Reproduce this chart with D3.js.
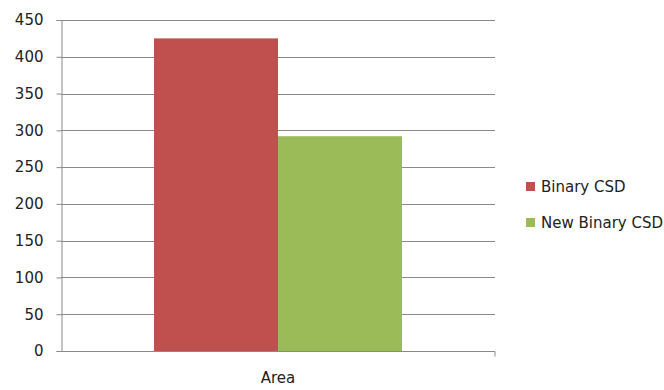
<!DOCTYPE html>
<html>
<head>
<meta charset="utf-8">
<script src="https://cdn.jsdelivr.net/npm/d3@7"></script>
<style>
  body { margin: 0; background: #fff; }
  text { font-family: "DejaVu Sans", sans-serif; fill: #222; }
</style>
</head>
<body>
<div id="chart"></div>
<script>
var categories = ["Area"];
var seriesNames = ["Binary CSD", "New Binary CSD"];
var seriesValues = [[425], [292]];
var yTicks = [0, 50, 100, 150, 200, 250, 300, 350, 400, 450];
var colors = ["#C0504D", "#9BBB59"];

var width = 664;
var height = 390;
var margin = {top: 20, left: 61, right: 169, bottom: 39};
var font = "'DejaVu Sans', sans-serif";

var svg = d3.select("#chart")
  .append("svg")
  .attr("width", width)
  .attr("height", height);

var y = d3.scaleLinear()
  .domain([0, 450])
  .range([height - margin.bottom, margin.top]);

var x0 = d3.scaleBand()
  .domain(categories)
  .range([margin.left, width - margin.right])
  .paddingInner(0)
  .paddingOuter(0.375);

var x1 = d3.scaleBand()
  .domain(seriesNames)
  .range([0, x0.bandwidth()]);

// gridlines
svg.append("g")
  .selectAll("line")
  .data(yTicks.filter(function(d) { return d > 0; }))
  .join("line")
    .attr("x1", margin.left)
    .attr("x2", width - margin.right)
    .attr("y1", function(d) { return Math.round(y(d)) + 0.5; })
    .attr("y2", function(d) { return Math.round(y(d)) + 0.5; })
    .attr("stroke", "#8a8a8a")
    .attr("stroke-width", 1);

// bars
var groups = svg.append("g")
  .selectAll("g")
  .data(categories)
  .join("g")
    .attr("transform", function(d) { return "translate(" + x0(d) + ",0)"; });

groups.selectAll("rect")
  .data(function(d, i) {
    return seriesNames.map(function(s, j) { return {name: s, value: seriesValues[j][i], idx: j}; });
  })
  .join("rect")
    .attr("x", function(d) { return x1(d.name); })
    .attr("y", function(d) { return y(d.value); })
    .attr("width", x1.bandwidth())
    .attr("height", function(d) { return y(0) - y(d.value); })
    .attr("fill", function(d) { return colors[d.idx]; });

// y axis
var yAxis = svg.append("g")
  .attr("transform", "translate(" + (margin.left + 0.5) + ",0)")
  .call(d3.axisLeft(y).tickValues(yTicks).tickSize(5).tickPadding(13));
yAxis.select(".domain").attr("stroke", "#8a8a8a");
yAxis.selectAll(".tick line").attr("stroke", "#8a8a8a");
yAxis.selectAll(".tick text")
  .attr("font-size", "15px")
  .attr("font-family", font)
  .attr("fill", "#222");

// x axis
var xAxis = svg.append("g")
  .attr("transform", "translate(0," + (Math.round(y(0)) + 0.5) + ")")
  .call(d3.axisBottom(x0).tickSize(0).tickPadding(21));
xAxis.select(".domain").attr("stroke", "#8a8a8a")
  .attr("d", "M" + margin.left + ",0H" + (width - margin.right) + "V5");
xAxis.selectAll(".tick text")
  .attr("font-size", "15px")
  .attr("font-family", font)
  .attr("fill", "#222");

// legend
var legend = svg.append("g")
  .attr("transform", "translate(526,182)");

var items = legend.selectAll("g")
  .data(seriesNames)
  .join("g")
    .attr("transform", function(d, i) { return "translate(0," + (i * 36) + ")"; });

items.append("rect")
  .attr("width", 9)
  .attr("height", 9)
  .attr("fill", function(d, i) { return colors[i]; });

items.append("text")
  .attr("x", 15)
  .attr("y", 10)
  .attr("font-size", "15px")
  .text(function(d) { return d; });
</script>
</body>
</html>
